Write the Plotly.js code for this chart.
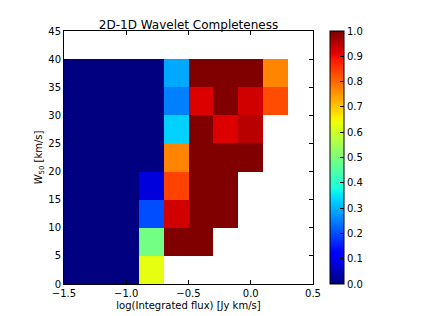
<!DOCTYPE html>
<html>
<head>
<meta charset="utf-8">
<script src="https://cdn.plot.ly/plotly-3.0.1.min.js"></script>
<style>html,body{margin:0;padding:0;background:#fff;}#chart{width:421px;height:316px;}</style>
</head>
<body>
<div id="chart"></div>
<script>
// Bin edges
var xEdges = [-1.5, -1.3, -1.1, -0.9, -0.7, -0.5, -0.3, -0.1, 0.1, 0.3, 0.5];
var yEdges = [0, 5, 10, 15, 20, 25, 30, 35, 40, 45];

// Completeness per W50 bin (rows, bottom to top), columns follow xEdges bins
var row0 = [0, 0, 0, 0.63, null, null, null, null, null, null];
var row1 = [0, 0, 0, 0.49, 1.0, 1.0, null, null, null, null];
var row2 = [0, 0, 0, 0.20, 0.93, 1.0, 1.0, null, null, null];
var row3 = [0, 0, 0, 0.08, 0.84, 1.0, 1.0, null, null, null];
var row4 = [0, 0, 0, 0, 0.77, 1.0, 1.0, 1.0, null, null];
var row5 = [0, 0, 0, 0, 0.33, 1.0, 0.92, 0.95, null, null];
var row6 = [0, 0, 0, 0, 0.25, 0.92, 1.0, 0.93, 0.83, null];
var row7 = [0, 0, 0, 0, 0.29, 1.0, 1.0, 1.0, 0.77, null];
var row8 = [null, null, null, null, null, null, null, null, null, null];

var titleText = '2D-1D Wavelet Completeness';
var xLabel = 'log(Integrated flux) [Jy km/s]';
var yLabel = '<i>W</i><sub>50</sub> [km/s]';

// matplotlib jet colormap
function seg(pts, v) {
  for (var i = 0; i < pts.length - 1; i++) {
    if (v >= pts[i][0] && v <= pts[i + 1][0]) {
      var t = (v - pts[i][0]) / (pts[i + 1][0] - pts[i][0]);
      return pts[i][1] + t * (pts[i + 1][1] - pts[i][1]);
    }
  }
  return pts[pts.length - 1][1];
}
var R = [[0, 0], [0.35, 0], [0.66, 1], [0.89, 1], [1, 0.5]];
var G = [[0, 0], [0.125, 0], [0.375, 1], [0.64, 1], [0.91, 0], [1, 0]];
var B = [[0, 0.5], [0.11, 1], [0.34, 1], [0.65, 0], [1, 0]];
var jet = [];
for (var i = 0; i <= 100; i++) {
  var v = i / 100;
  jet.push([v, 'rgb(' + Math.round(255 * seg(R, v)) + ',' + Math.round(255 * seg(G, v)) + ',' + Math.round(255 * seg(B, v)) + ')']);
}

var fontFam = 'DejaVu Sans, sans-serif';
var trace = {
  type: 'heatmap',
  x: xEdges,
  y: yEdges,
  z: [row0, row1, row2, row3, row4, row5, row6, row7, row8],
  zmin: 0, zmax: 1,
  colorscale: jet,
  hoverongaps: false,
  colorbar: {
    x: 1.068, xanchor: 'left', xpad: 0, ypad: 0,
    y: 0.5, yanchor: 'middle', len: 1, lenmode: 'fraction',
    thickness: 14, thicknessmode: 'pixels',
    outlinewidth: 1, outlinecolor: '#000',
    tickmode: 'linear', tick0: 0, dtick: 0.1, tickformat: '.1f',
    ticks: 'inside', ticklen: 4, tickcolor: '#000',
    tickfont: {family: fontFam, size: 10, color: '#000'}
  }
};

var axisCommon = {
  showline: true, linecolor: '#000', linewidth: 1, mirror: 'allticks',
  ticks: 'inside', ticklen: 4, tickcolor: '#000',
  showgrid: false, zeroline: false,
  tickfont: {family: fontFam, size: 10, color: '#000'}
};

var layout = {
  width: 421, height: 316,
  margin: {l: 64, r: 108, t: 31, b: 32},
  paper_bgcolor: '#fff', plot_bgcolor: '#fff',
  font: {family: fontFam, size: 10, color: '#000'},
  title: {text: titleText, font: {family: fontFam, size: 12, color: '#000'}, x: 0.5, xref: 'paper', xanchor: 'center', y: 1, yref: 'paper', yanchor: 'bottom', pad: {b: 2}},
  xaxis: Object.assign({}, axisCommon, {
    range: [-1.5, 0.5], tickmode: 'linear', tick0: -1.5, dtick: 0.5, tickformat: '.1f',
    title: {text: xLabel, font: {family: fontFam, size: 10, color: '#000'}, standoff: 3}
  }),
  yaxis: Object.assign({}, axisCommon, {
    range: [0, 45], tickmode: 'linear', tick0: 0, dtick: 5,
    title: {text: yLabel, font: {family: fontFam, size: 10, color: '#000'}, standoff: 3}
  })
};

Plotly.newPlot('chart', [trace], layout, {displayModeBar: false, staticPlot: true});
</script>
</body>
</html>
